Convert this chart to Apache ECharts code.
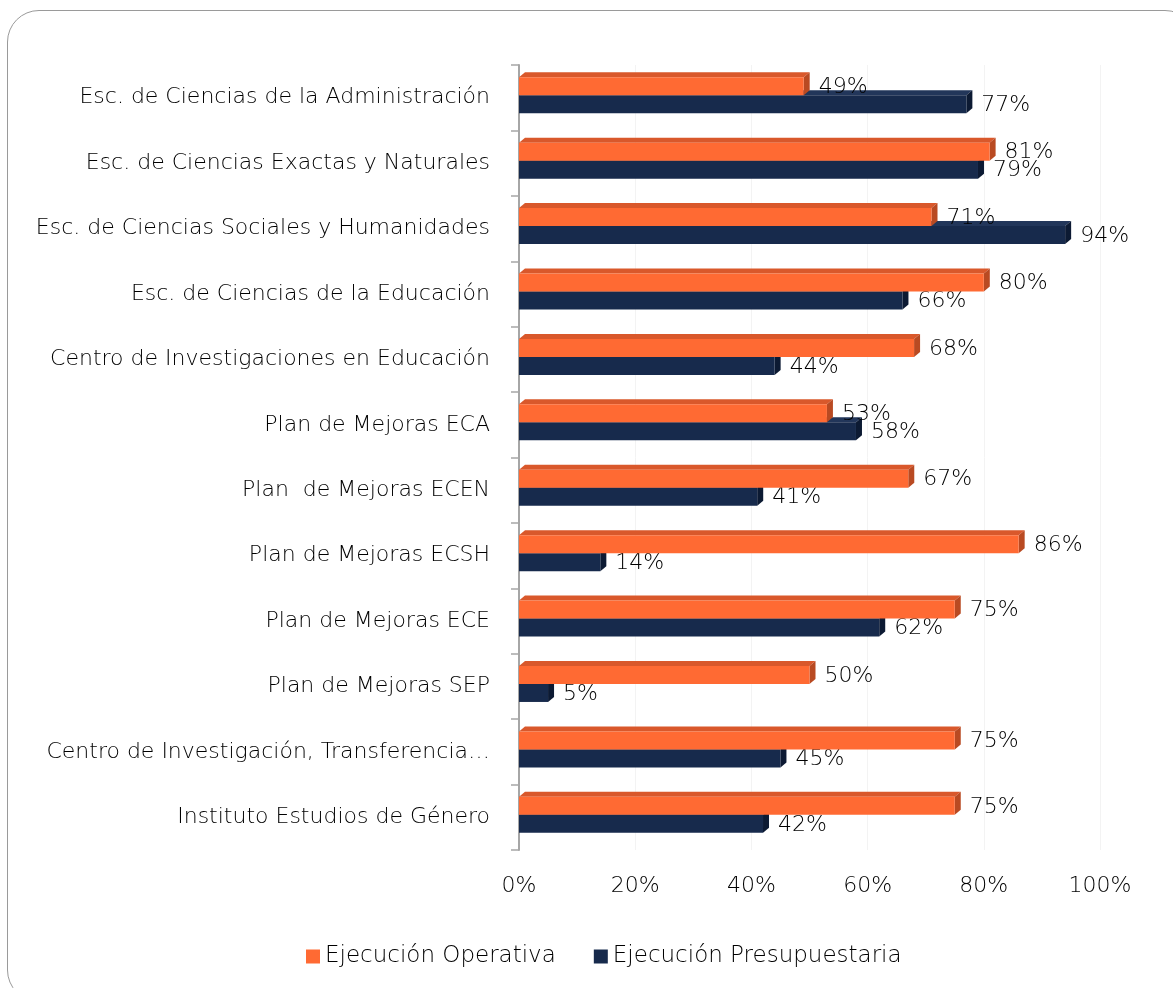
<!DOCTYPE html>
<html>
<head>
<meta charset="utf-8">
<script src="https://cdn.jsdelivr.net/npm/echarts@6/dist/echarts.min.js"></script>
<style>
  html, body { margin: 0; padding: 0; background: #fff; overflow: hidden; }
  #frame {
    position: absolute; left: 7px; top: 10px; width: 1190px; height: 992px;
    border: 1.5px solid #9a9a9a; border-radius: 32px; box-sizing: border-box;
  }
  #chart { position: absolute; left: 0; top: 0; width: 1173px; height: 988px; }
</style>
</head>
<body>
<div id="frame"></div>
<div id="chart"></div>
<script>
const categories = [
  "Esc. de Ciencias de la Administración",
  "Esc. de Ciencias Exactas y Naturales",
  "Esc. de Ciencias Sociales y Humanidades",
  "Esc. de Ciencias de la Educación",
  "Centro de Investigaciones en Educación",
  "Plan de Mejoras ECA",
  "Plan  de Mejoras ECEN",
  "Plan de Mejoras ECSH",
  "Plan de Mejoras ECE",
  "Plan de Mejoras SEP",
  "Centro de Investigación, Transferencia…",
  "Instituto Estudios de Género",
];
const operativa = [49, 81, 71, 80, 68, 53, 67, 86, 75, 50, 75, 75];
const presupuestaria = [77, 79, 94, 66, 44, 58, 41, 14, 62, 5, 45, 42];
const xTicks = [0, 20, 40, 60, 80, 100];

const chart = echarts.init(document.getElementById("chart"));
const FONT = "DejaVu Sans";
const WEIGHT = 200;
const INK = "#000";
const DX = 6, DY = -5, BAR = 18;

// front, top, side colours per series
const palette = [
  { front: "#FF6A33", top: "#D9582B", side: "#B94A22" },
  { front: "#172A4C", top: "#22365A", side: "#0C1A33" },
];

function makeRender(idx) {
  return function (params, api) {
    const v = api.value(0);
    const end = api.coord([v, api.value(1)]);
    const start = api.coord([0, api.value(1)]);
    const c = end[1] - 2.5;
    const y0 = idx === 0 ? c - BAR : c;
    const y1 = y0 + BAR;
    const x0 = start[0], x1 = end[0];
    const col = palette[idx];
    return {
      type: "group",
      children: [
        {
          type: "polygon",
          shape: { points: [[x0, y0], [x0 + DX, y0 + DY], [x1 + DX, y0 + DY], [x1, y0]] },
          style: { fill: col.top },
        },
        {
          type: "polygon",
          shape: { points: [[x1, y0], [x1 + DX, y0 + DY], [x1 + DX, y1 + DY], [x1, y1]] },
          style: { fill: col.side },
        },
        {
          type: "rect",
          shape: { x: x0, y: y0, width: x1 - x0, height: BAR },
          style: { fill: col.front },
        },
        {
          type: "text",
          x: x1 + DX + 9,
          y: (y0 + y1) / 2 + 1,
          style: {
            text: v + "%",
            fontFamily: FONT,
            fontWeight: WEIGHT,
            fontSize: 22,
            fill: INK,
            verticalAlign: "middle",
          },
        },
      ],
    };
  };
}

const option = {
  animation: false,
  grid: { left: 519, right: 73, top: 65, bottom: 138 },
  legend: {
    data: ["Ejecución Operativa", "Ejecución Presupuestaria"],
    bottom: 15,
    left: 301,
    icon: "rect",
    itemWidth: 14,
    itemHeight: 14,
    itemGap: 38,
    textStyle: { fontFamily: FONT, fontWeight: WEIGHT, fontSize: 23, color: INK },
  },
  xAxis: {
    type: "value",
    min: xTicks[0],
    max: xTicks[xTicks.length - 1],
    interval: 20,
    axisLabel: {
      formatter: "{value}%",
      fontFamily: FONT,
      fontWeight: WEIGHT,
      fontSize: 22,
      color: INK,
      margin: 25,
    },
    axisLine: { show: false },
    axisTick: { show: false },
    splitLine: { show: true, lineStyle: { color: "#f3f3f3" } },
  },
  yAxis: {
    type: "category",
    inverse: true,
    data: categories,
    axisLabel: { fontFamily: FONT, fontWeight: WEIGHT, fontSize: 22, color: INK, margin: 29 },
    axisLine: { show: true, lineStyle: { color: "#a6a6a6", width: 2 } },
    axisTick: { show: true, length: 8, lineStyle: { color: "#a6a6a6", width: 1.5 } },
  },
  series: [
    {
      name: "Ejecución Presupuestaria",
      type: "custom",
      itemStyle: { color: palette[1].front },
      encode: { x: 0, y: 1 },
      renderItem: makeRender(1),
      data: presupuestaria.map((v, i) => [v, i]),
      z: 2,
    },
    {
      name: "Ejecución Operativa",
      type: "custom",
      itemStyle: { color: palette[0].front },
      encode: { x: 0, y: 1 },
      renderItem: makeRender(0),
      data: operativa.map((v, i) => [v, i]),
      z: 3,
    },
  ],
};

chart.setOption(option);
window.addEventListener("resize", () => chart.resize());
</script>
</body>
</html>
